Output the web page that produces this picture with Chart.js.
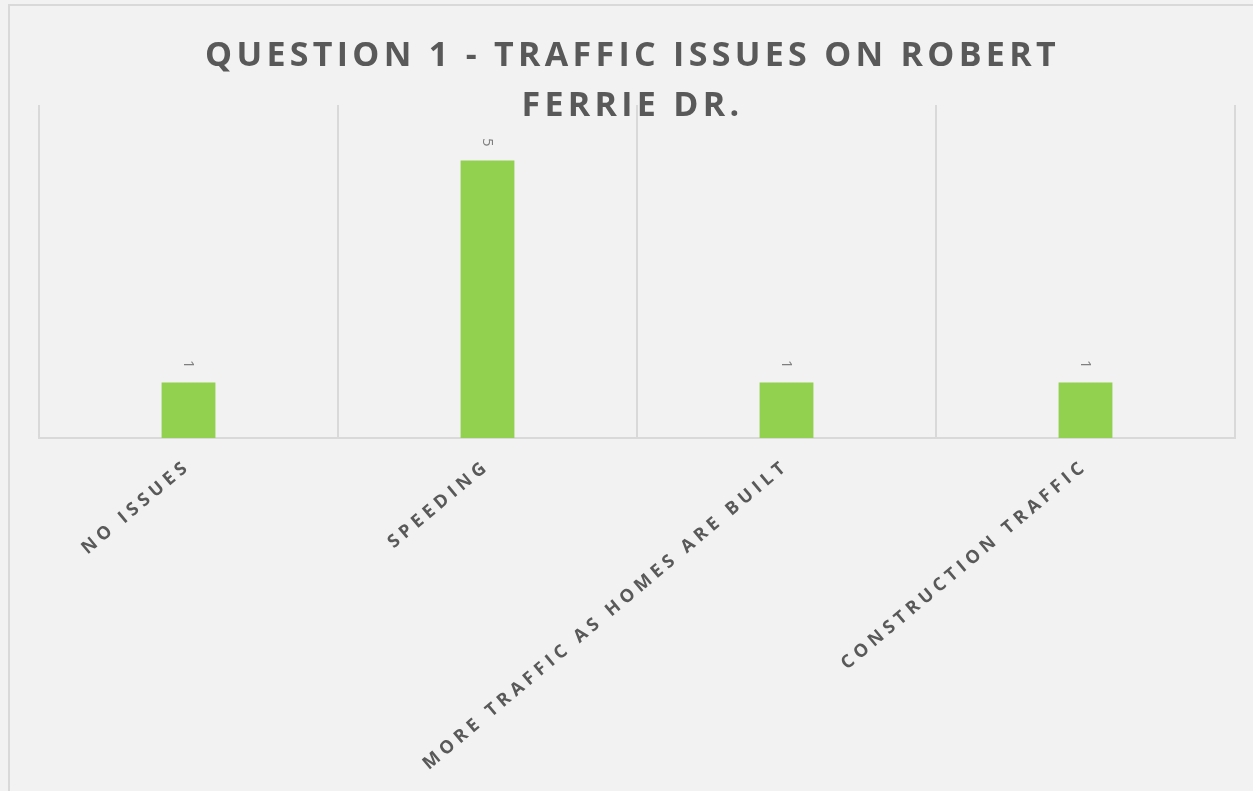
<!DOCTYPE html>
<html>
<head>
<meta charset="utf-8">
<script src="https://cdn.jsdelivr.net/npm/chart.js@4/dist/chart.umd.min.js"></script>
<style>
  html, body { margin: 0; padding: 0; background: #f2f2f2; overflow: hidden; }
  #frame {
    position: absolute; left: 8px; top: 4px; width: 1260px; height: 800px;
    border-left: 2px solid #d9d9d9; border-top: 2px solid #d9d9d9;
  }
  #wrap { position: absolute; left: 0; top: 0; width: 1243px; height: 785px; }
</style>
</head>
<body>
<div id="frame"><div id="wrap"><canvas id="chart"></canvas></div></div>
<script>
const categories = ["NO ISSUES", "SPEEDING", "MORE TRAFFIC AS HOMES ARE BUILT", "CONSTRUCTION TRAFFIC"];
const counts = [1, 5, 1, 1];
const titleLines = ["QUESTION 1 - TRAFFIC ISSUES ON ROBERT", "FERRIE DR."];

const fontFamily = "'Open Sans', 'DejaVu Sans', sans-serif";
const textColor = "#595959";

// canvas letter spacing, reset whenever chart.js touches the context
function spacing(ctx, px) { ctx.letterSpacing = px + "px"; }

const spacedText = {
  id: 'spacedText',
  beforeLayout(chart) { spacing(chart.ctx, 4.8); },
  beforeDraw(chart) { spacing(chart.ctx, 4.8); }
};

const titleDraw = {
  id: 'titleDraw',
  afterDraw(chart) {
    const ctx = chart.ctx;
    ctx.save();
    spacing(ctx, 4.3);
    ctx.font = "bold 34px " + fontFamily;
    ctx.fillStyle = textColor;
    ctx.textAlign = 'center';
    ctx.textBaseline = 'middle';
    const cx = chart.width / 2 + 1;
    titleLines.forEach((line, i) => ctx.fillText(line, cx, 50 + i * 50));
    ctx.restore();
  }
};

const barValues = {
  id: 'barValues',
  afterDatasetsDraw(chart) {
    const ctx = chart.ctx;
    const meta = chart.getDatasetMeta(0);
    ctx.save();
    spacing(ctx, 0);
    ctx.font = "15px " + fontFamily;
    ctx.fillStyle = "#7f7f7f";
    ctx.textAlign = 'right';
    ctx.textBaseline = 'middle';
    meta.data.forEach((bar, i) => {
      ctx.save();
      ctx.translate(bar.x, bar.y - 14);
      ctx.rotate(Math.PI / 2);
      ctx.fillText(String(counts[i]), 0, 0);
      ctx.restore();
    });
    ctx.restore();
  }
};

new Chart(document.getElementById('chart'), {
  type: 'bar',
  data: {
    labels: categories,
    datasets: [{
      data: counts,
      backgroundColor: '#92d050',
      barPercentage: 1,
      categoryPercentage: 0.18
    }]
  },
  options: {
    responsive: true,
    maintainAspectRatio: false,
    animation: false,
    layout: { padding: { left: 29, right: 18, top: 99, bottom: 0 } },
    scales: {
      x: {
        grid: { color: '#d9d9d9', lineWidth: 2, drawTicks: false, offset: true },
        border: { color: '#d9d9d9', width: 2 },
        ticks: {
          maxRotation: 40,
          minRotation: 40,
          padding: 17,
          color: textColor,
          font: { family: fontFamily, size: 18, weight: 'bold' }
        },
        afterFit(scale) { scale.height = 353; }
      },
      y: {
        display: false,
        min: 0,
        max: 6
      }
    },
    plugins: {
      legend: { display: false },
      title: { display: false },
      tooltip: { enabled: false }
    }
  },
  plugins: [spacedText, barValues, titleDraw]
});
</script>
</body>
</html>
